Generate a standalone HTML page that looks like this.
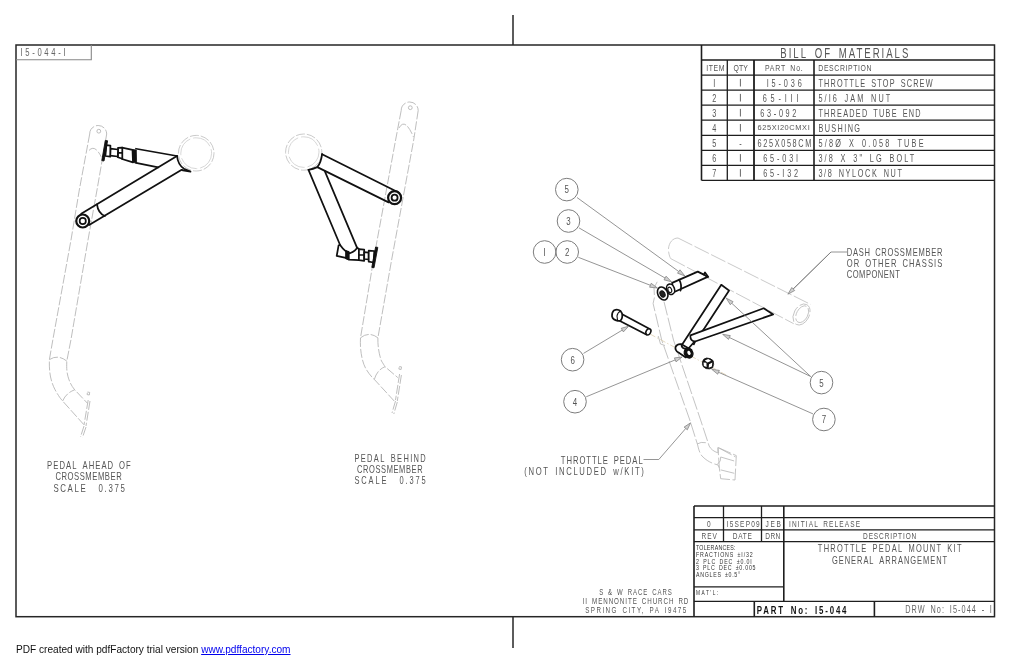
<!DOCTYPE html>
<html><head><meta charset="utf-8">
<style>
html,body{margin:0;padding:0;background:#fff;width:1024px;height:663px;overflow:hidden;}
svg{display:block;position:absolute;left:0;top:0;will-change:transform;}
.t{font-family:"Liberation Sans",sans-serif;}
.foot{position:absolute;left:15.5px;top:643px;font-family:"Liberation Sans",sans-serif;font-size:10.1px;line-height:14px;color:#111;white-space:nowrap;will-change:transform;}
.foot a{color:#0000ee;text-decoration:underline;}
</style></head><body>
<svg width="1024" height="663" viewBox="0 0 1024 663">
<g stroke="#262626" stroke-width="1.5" fill="none">
<rect x="16" y="45" width="978.5" height="571.7"/>
<line x1="513" y1="15" x2="513" y2="45"/>
<line x1="513" y1="617" x2="513" y2="648"/>
</g>
<polyline points="16,59.7 91.3,59.7 91.3,45" stroke="#888" stroke-width="1.1" fill="none"/>
<text class="t" transform="matrix(0.700,0,0,1,20.4,56.3)" x="0" y="0" font-size="10.97" font-weight="normal" fill="#666" textLength="64.6" lengthAdjust="spacing">I5-044-I</text>
<g stroke="#1e1e1e" stroke-width="1.3" fill="none">
<line x1="701.5" y1="60" x2="994.5" y2="60"/>
<line x1="701.5" y1="75.1" x2="994.5" y2="75.1"/>
<line x1="701.5" y1="90.2" x2="994.5" y2="90.2"/>
<line x1="701.5" y1="105.2" x2="994.5" y2="105.2"/>
<line x1="701.5" y1="120.2" x2="994.5" y2="120.2"/>
<line x1="701.5" y1="135.3" x2="994.5" y2="135.3"/>
<line x1="701.5" y1="150.4" x2="994.5" y2="150.4"/>
<line x1="701.5" y1="165.4" x2="994.5" y2="165.4"/>
<line x1="701.5" y1="180.4" x2="994.5" y2="180.4"/>
<line x1="701.5" y1="45" x2="701.5" y2="180.4" stroke-width="1.6"/>
<line x1="727.3" y1="60" x2="727.3" y2="180.4" stroke-width="1.3"/>
<line x1="754" y1="60" x2="754" y2="180.4" stroke-width="1.8"/>
<line x1="814" y1="60" x2="814" y2="180.4" stroke-width="1.6"/>
</g>
<text class="t" transform="matrix(0.700,0,0,1,780.3,57.8)" x="0" y="0" font-size="13.72" font-weight="normal" fill="#555" textLength="182.9" lengthAdjust="spacing">BILL OF MATERIALS</text>
<text class="t" transform="matrix(0.700,0,0,1,706.3,71.0)" x="0" y="0" font-size="9.88" font-weight="normal" fill="#555" textLength="26.0" lengthAdjust="spacing">ITEM</text>
<text class="t" transform="matrix(0.700,0,0,1,733.4,71.0)" x="0" y="0" font-size="9.88" font-weight="normal" fill="#555" textLength="20.7" lengthAdjust="spacing">QTY</text>
<text class="t" transform="matrix(0.700,0,0,1,764.9,71.0)" x="0" y="0" font-size="9.88" font-weight="normal" fill="#555" textLength="54.1" lengthAdjust="spacing">PART No.</text>
<text class="t" transform="matrix(0.700,0,0,1,818.3,71.0)" x="0" y="0" font-size="9.88" font-weight="normal" fill="#555" textLength="76.0" lengthAdjust="spacing">DESCRIPTION</text>
<text class="t" transform="matrix(0.700,0,0,1,714.3,86.5)" x="0" y="0" font-size="10.43" font-weight="normal" fill="#555" text-anchor="middle">I</text>
<line x1="740.4" y1="78.9" x2="740.4" y2="86.5" stroke="#555" stroke-width="0.9"/>
<text class="t" transform="matrix(0.700,0,0,1,766.7,86.5)" x="0" y="0" font-size="10.43" font-weight="normal" fill="#555" textLength="50.0" lengthAdjust="spacing">I5-036</text>
<text class="t" transform="matrix(0.700,0,0,1,818.4,86.5)" x="0" y="0" font-size="10.43" font-weight="normal" fill="#555" textLength="163.1" lengthAdjust="spacing">THROTTLE STOP SCREW</text>
<text class="t" transform="matrix(0.700,0,0,1,714.3,101.5)" x="0" y="0" font-size="10.43" font-weight="normal" fill="#555" text-anchor="middle">2</text>
<line x1="740.4" y1="93.9" x2="740.4" y2="101.5" stroke="#555" stroke-width="0.9"/>
<text class="t" transform="matrix(0.700,0,0,1,762.7,101.5)" x="0" y="0" font-size="10.43" font-weight="normal" fill="#555" textLength="51.1" lengthAdjust="spacing">65-III</text>
<text class="t" transform="matrix(0.700,0,0,1,818.4,101.5)" x="0" y="0" font-size="10.43" font-weight="normal" fill="#555" textLength="102.6" lengthAdjust="spacing">5/I6 JAM NUT</text>
<text class="t" transform="matrix(0.700,0,0,1,714.3,116.5)" x="0" y="0" font-size="10.43" font-weight="normal" fill="#555" text-anchor="middle">3</text>
<line x1="740.4" y1="108.9" x2="740.4" y2="116.5" stroke="#555" stroke-width="0.9"/>
<text class="t" transform="matrix(0.700,0,0,1,760.3,116.5)" x="0" y="0" font-size="10.43" font-weight="normal" fill="#555" textLength="51.6" lengthAdjust="spacing">63-092</text>
<text class="t" transform="matrix(0.700,0,0,1,818.4,116.5)" x="0" y="0" font-size="10.43" font-weight="normal" fill="#555" textLength="146.0" lengthAdjust="spacing">THREADED TUBE END</text>
<text class="t" transform="matrix(0.700,0,0,1,714.3,131.6)" x="0" y="0" font-size="10.43" font-weight="normal" fill="#555" text-anchor="middle">4</text>
<line x1="740.4" y1="124.0" x2="740.4" y2="131.6" stroke="#555" stroke-width="0.9"/>
<text class="t" transform="matrix(1.000,0,0,1,757.5,130.4)" x="0" y="0" font-size="7.41" font-weight="normal" fill="#555" textLength="52.2" lengthAdjust="spacing">625XI20CMXI</text>
<text class="t" transform="matrix(0.700,0,0,1,818.4,131.6)" x="0" y="0" font-size="10.43" font-weight="normal" fill="#555" textLength="59.4" lengthAdjust="spacing">BUSHING</text>
<text class="t" transform="matrix(0.700,0,0,1,714.3,146.7)" x="0" y="0" font-size="10.43" font-weight="normal" fill="#555" text-anchor="middle">5</text>
<text class="t" transform="matrix(0.700,0,0,1,740.5,146.7)" x="0" y="0" font-size="10.43" font-weight="normal" fill="#555" text-anchor="middle">-</text>
<text class="t" transform="matrix(0.700,0,0,1,757.5,146.7)" x="0" y="0" font-size="10.43" font-weight="normal" fill="#555" textLength="76.9" lengthAdjust="spacing">625X058CM</text>
<text class="t" transform="matrix(0.700,0,0,1,818.4,146.7)" x="0" y="0" font-size="10.43" font-weight="normal" fill="#555" textLength="150.3" lengthAdjust="spacing">5/8Ø X 0.058 TUBE</text>
<text class="t" transform="matrix(0.700,0,0,1,714.3,161.7)" x="0" y="0" font-size="10.43" font-weight="normal" fill="#555" text-anchor="middle">6</text>
<line x1="740.4" y1="154.1" x2="740.4" y2="161.7" stroke="#555" stroke-width="0.9"/>
<text class="t" transform="matrix(0.700,0,0,1,763.2,161.7)" x="0" y="0" font-size="10.43" font-weight="normal" fill="#555" textLength="49.9" lengthAdjust="spacing">65-03I</text>
<text class="t" transform="matrix(0.700,0,0,1,818.4,161.7)" x="0" y="0" font-size="10.43" font-weight="normal" fill="#555" textLength="136.9" lengthAdjust="spacing">3/8 X 3" LG BOLT</text>
<text class="t" transform="matrix(0.700,0,0,1,714.3,176.7)" x="0" y="0" font-size="10.43" font-weight="normal" fill="#555" text-anchor="middle">7</text>
<line x1="740.4" y1="169.1" x2="740.4" y2="176.7" stroke="#555" stroke-width="0.9"/>
<text class="t" transform="matrix(0.700,0,0,1,763.2,176.7)" x="0" y="0" font-size="10.43" font-weight="normal" fill="#555" textLength="49.9" lengthAdjust="spacing">65-I32</text>
<text class="t" transform="matrix(0.700,0,0,1,818.4,176.7)" x="0" y="0" font-size="10.43" font-weight="normal" fill="#555" textLength="119.3" lengthAdjust="spacing">3/8 NYLOCK NUT</text>
<g stroke="#1e1e1e" stroke-width="1.3" fill="none">
<line x1="694" y1="506" x2="994.5" y2="506"/>
<line x1="694" y1="517.7" x2="994.5" y2="517.7"/>
<line x1="694" y1="529.9" x2="994.5" y2="529.9"/>
<line x1="694" y1="541.6" x2="994.5" y2="541.6"/>
<line x1="694" y1="506" x2="694" y2="616.7" stroke-width="1.6"/>
<line x1="723.5" y1="506" x2="723.5" y2="541.6"/>
<line x1="761.5" y1="506" x2="761.5" y2="541.6"/>
<line x1="783.8" y1="506" x2="783.8" y2="601.4" stroke-width="1.6"/>
<line x1="694" y1="586.9" x2="783.8" y2="586.9"/>
<line x1="694" y1="601.4" x2="994.5" y2="601.4"/>
<line x1="754.3" y1="601.4" x2="754.3" y2="616.7" stroke-width="1.6"/>
<line x1="874.4" y1="601.4" x2="874.4" y2="616.7" stroke-width="1.6"/>
</g>
<text class="t" transform="matrix(0.700,0,0,1,708.8,527.2)" x="0" y="0" font-size="9.33" font-weight="normal" fill="#555" text-anchor="middle">0</text>
<text class="t" transform="matrix(0.700,0,0,1,726.6,527.2)" x="0" y="0" font-size="9.33" font-weight="normal" fill="#555" textLength="47.3" lengthAdjust="spacing">I5SEP09</text>
<text class="t" transform="matrix(0.700,0,0,1,765.6,527.2)" x="0" y="0" font-size="9.33" font-weight="normal" fill="#555" textLength="21.9" lengthAdjust="spacing">JEB</text>
<text class="t" transform="matrix(0.700,0,0,1,789.1,527.2)" x="0" y="0" font-size="9.33" font-weight="normal" fill="#555" textLength="101.3" lengthAdjust="spacing">INITIAL RELEASE</text>
<text class="t" transform="matrix(0.700,0,0,1,701.6,539.1)" x="0" y="0" font-size="9.33" font-weight="normal" fill="#555" textLength="21.9" lengthAdjust="spacing">REV</text>
<text class="t" transform="matrix(0.700,0,0,1,732.8,539.1)" x="0" y="0" font-size="9.33" font-weight="normal" fill="#555" textLength="27.3" lengthAdjust="spacing">DATE</text>
<text class="t" transform="matrix(0.700,0,0,1,765.3,539.1)" x="0" y="0" font-size="9.33" font-weight="normal" fill="#555" textLength="21.4" lengthAdjust="spacing">DRN</text>
<text class="t" transform="matrix(0.700,0,0,1,863.1,539.1)" x="0" y="0" font-size="9.33" font-weight="normal" fill="#555" textLength="76.0" lengthAdjust="spacing">DESCRIPTION</text>
<text class="t" transform="matrix(0.700,0,0,1,696.0,549.9)" x="0" y="0" font-size="7.54" font-weight="normal" fill="#333" textLength="56.4" lengthAdjust="spacing">TOLERANCES:</text>
<text class="t" transform="matrix(0.700,0,0,1,696.0,556.9)" x="0" y="0" font-size="7.54" font-weight="normal" fill="#333" textLength="81.0" lengthAdjust="spacing">FRACTIONS ±I/32</text>
<text class="t" transform="matrix(0.700,0,0,1,696.0,563.5)" x="0" y="0" font-size="7.54" font-weight="normal" fill="#333" textLength="79.7" lengthAdjust="spacing">2 PLC DEC ±0.0I</text>
<text class="t" transform="matrix(0.700,0,0,1,696.0,570.2)" x="0" y="0" font-size="7.54" font-weight="normal" fill="#333" textLength="85.0" lengthAdjust="spacing">3 PLC DEC ±0.005</text>
<text class="t" transform="matrix(0.700,0,0,1,696.0,577.0)" x="0" y="0" font-size="7.54" font-weight="normal" fill="#333" textLength="63.0" lengthAdjust="spacing">ANGLES ±0.5°</text>
<text class="t" transform="matrix(0.700,0,0,1,696.0,595.3)" x="0" y="0" font-size="6.86" font-weight="normal" fill="#333" textLength="31.9" lengthAdjust="spacing">MAT'L:</text>
<text class="t" transform="matrix(0.700,0,0,1,817.8,552.3)" x="0" y="0" font-size="10.70" font-weight="normal" fill="#555" textLength="205.3" lengthAdjust="spacing">THROTTLE PEDAL MOUNT KIT</text>
<text class="t" transform="matrix(0.700,0,0,1,831.9,563.6)" x="0" y="0" font-size="10.70" font-weight="normal" fill="#555" textLength="164.7" lengthAdjust="spacing">GENERAL ARRANGEMENT</text>
<text class="t" transform="matrix(0.700,0,0,1,756.7,613.7)" x="0" y="0" font-size="11.25" font-weight="bold" fill="#111" textLength="128.3" lengthAdjust="spacing">PART No: I5-044</text>
<text class="t" transform="matrix(0.700,0,0,1,905.3,613.1)" x="0" y="0" font-size="10.43" font-weight="normal" fill="#666" textLength="123.7" lengthAdjust="spacing">DRW No: I5-044 - I</text>
<text class="t" transform="matrix(0.700,0,0,1,599.2,594.9)" x="0" y="0" font-size="8.64" font-weight="normal" fill="#555" textLength="103.7" lengthAdjust="spacing">S &amp; W RACE CARS</text>
<text class="t" transform="matrix(0.700,0,0,1,846.8,255.9)" x="0" y="0" font-size="10.84" font-weight="normal" fill="#555" textLength="136.6" lengthAdjust="spacing">DASH CROSSMEMBER</text>
<text class="t" transform="matrix(0.700,0,0,1,846.8,267.3)" x="0" y="0" font-size="10.84" font-weight="normal" fill="#555" textLength="136.6" lengthAdjust="spacing">OR OTHER CHASSIS</text>
<text class="t" transform="matrix(0.700,0,0,1,846.8,278.2)" x="0" y="0" font-size="10.84" font-weight="normal" fill="#555" textLength="75.7" lengthAdjust="spacing">COMPONENT</text>
<text class="t" transform="matrix(0.700,0,0,1,560.8,463.5)" x="0" y="0" font-size="10.97" font-weight="normal" fill="#555" textLength="117.0" lengthAdjust="spacing">THROTTLE PEDAL</text>
<text class="t" transform="matrix(0.700,0,0,1,524.2,474.5)" x="0" y="0" font-size="10.97" font-weight="normal" fill="#555" textLength="171.0" lengthAdjust="spacing">(NOT INCLUDED w/KIT)</text>
<text class="t" transform="matrix(0.700,0,0,1,47.1,468.9)" x="0" y="0" font-size="10.97" font-weight="normal" fill="#555" textLength="119.6" lengthAdjust="spacing">PEDAL AHEAD OF</text>
<text class="t" transform="matrix(0.700,0,0,1,55.4,480.3)" x="0" y="0" font-size="10.97" font-weight="normal" fill="#555" textLength="94.7" lengthAdjust="spacing">CROSSMEMBER</text>
<text class="t" transform="matrix(0.700,0,0,1,53.4,491.6)" x="0" y="0" font-size="11.25" font-weight="normal" fill="#555" textLength="102.0" lengthAdjust="spacing">SCALE  0.375</text>
<text class="t" transform="matrix(0.700,0,0,1,354.4,461.9)" x="0" y="0" font-size="10.70" font-weight="normal" fill="#555" textLength="101.9" lengthAdjust="spacing">PEDAL BEHIND</text>
<text class="t" transform="matrix(0.700,0,0,1,357.0,472.9)" x="0" y="0" font-size="10.70" font-weight="normal" fill="#555" textLength="93.7" lengthAdjust="spacing">CROSSMEMBER</text>
<text class="t" transform="matrix(0.700,0,0,1,354.4,484.4)" x="0" y="0" font-size="10.70" font-weight="normal" fill="#555" textLength="101.9" lengthAdjust="spacing">SCALE  0.375</text>
<text class="t" transform="matrix(0.700,0,0,1,582.7,604.1)" x="0" y="0" font-size="8.92" font-weight="normal" fill="#555" textLength="150.9" lengthAdjust="spacing">II MENNONITE CHURCH RD</text>
<text class="t" transform="matrix(0.700,0,0,1,585.2,612.9)" x="0" y="0" font-size="8.92" font-weight="normal" fill="#555" textLength="144.4" lengthAdjust="spacing">SPRING CITY, PA I9475</text>
<defs>
<style>
.dsh{stroke:#adadad;stroke-width:0.8;stroke-dasharray:9 2;fill:none;}
.blk{stroke:#111;stroke-width:1.75;fill:none;stroke-linejoin:round;stroke-linecap:round;}
.blkf{stroke:#111;stroke-width:1.75;fill:#fff;stroke-linejoin:round;}
.ldr{stroke:#7a7a7a;stroke-width:0.8;fill:none;}
.bal{stroke:#7c7c7c;stroke-width:1;fill:none;}
.arw{stroke:#777;stroke-width:0.7;fill:#d0d0d0;}
.cl{stroke:#d9c9a6;stroke-width:0.7;stroke-dasharray:6 2 1.5 2;fill:none;}
</style>
</defs>
<!-- ===== LEFT VIEW: pedal ahead of crossmember ===== -->
<g id="left">
  <!-- pedal (dashed) -->
  <path class="dsh" d="M89.7,134 A8.5,8.5 0 0 1 106.7,134"/>
  <circle class="dsh" cx="98.8" cy="131.2" r="1.9" style="stroke-dasharray:none"/>
  <path class="dsh" d="M89.7,134 L79.3,190 L71,240 L52.8,340 L49.4,359.6 C49,372 50.5,381 55.1,389.8 C58,395 60,398 62.6,401 L83.7,424.5"/>
  <path class="dsh" d="M106.7,134 L97,190 L88,240 L70.9,340 L66.8,361.1 C66.5,368 66.8,372 67.9,376.2 C69.5,382 71.5,386 74.7,389.8 L87.5,403.3"/>
  <path class="dsh" d="M89,150.4 Q95,144 101.4,157.2"/>
  <path class="dsh" d="M49.4,359.6 Q58,354 66.8,361.1"/>
  <path class="dsh" d="M62.6,401 Q66,393 74.7,389.8"/>
  <path class="dsh" d="M87.5,392 l2.2,0.4 l-0.4,2.6 l-2.2,-0.4 z M88.2,400 L84,425 M90,401 L86,426 M84,426 L80.5,437 M86,427 L82.5,437.5" stroke-dasharray="3 1.5"/>
  <!-- crossmember circle -->
  <circle class="dsh" cx="196.2" cy="153.2" r="17.8" style="stroke:#bdbdbd"/>
  <circle class="dsh" cx="196.2" cy="153.2" r="15.4" style="stroke:#cdcdcd;stroke-dasharray:20 3"/>
  <!-- throttle stop rod -->
  <path class="blk" d="M136,148.75 L177,156 M136,162.8 L158.3,167.3"/>
  <path class="blkf" d="M122,147.6 L132.5,149.8 L133,162.3 L122,159 Z"/>
  <path d="M132.8,149.5 L136.3,150 L136.6,163 L133.2,162.5 Z" fill="#111" stroke="#111" stroke-width="0.8"/>
  <path class="blkf" d="M118,147.8 L122.3,147.6 L122.3,158.8 L117.8,157.2 Z M118,152.7 L122.3,153"/>
  <path class="blkf" d="M110.4,148.7 L118,149.5 L117.8,156.5 L110.2,155.6 Z"/>
  <path class="blkf" d="M106.3,145.2 L110.4,145.6 L110.2,156.7 L105.4,156 Z"/>
  <path d="M105.3,140.4 L107.6,140.8 L104,161 L101.8,160.6 Z" fill="#111" stroke="#111" stroke-width="0.9"/>
  <!-- main tube -->
  <path class="blk" d="M81.2,213.7 L177,156 M89.1,225 L181.7,169.8"/>
  <path class="blk" d="M177,156 Q178,165 184,168.7 L190.5,171.6 L182.9,170.4 L181.7,169.8"/>
  <path class="blk" d="M97,204.3 Q98,213 104.9,216" stroke-width="1.1"/>
  <circle cx="82.75" cy="221" r="6.5" fill="#fff" stroke="#111" stroke-width="2.2"/>
  <circle cx="82.75" cy="221" r="3.1" fill="#fff" stroke="#111" stroke-width="1.7"/>
</g>
<!-- ===== CENTER VIEW: pedal behind crossmember ===== -->
<g id="center">
  <path class="dsh" d="M401.2,110.5 A8.5,8.5 0 0 1 418.2,110.5"/>
  <circle class="dsh" cx="410.3" cy="107.7" r="1.9" style="stroke-dasharray:none"/>
  <path class="dsh" d="M401.2,110.5 L395.6,140 L373.5,260 L360.5,337.8 C359.8,350 362,362 366,369 C368.5,373 371,376.5 374.3,379.4 L394.2,401"/>
  <path class="dsh" d="M418.2,110.5 L413.7,140 L391.6,260 L377.9,337.8 C377.6,347 379.5,356 381.5,361 C383,363.5 384,365 385,366.7 L397.8,377.6"/>
  <path class="dsh" d="M399,128 Q405,117 413.5,137"/>
  <path class="dsh" d="M360.5,337.8 Q369,331 377.9,337.8"/>
  <path class="dsh" d="M374.3,379.4 Q377,370 385,366.7"/>
  <path class="dsh" d="M399.3,366.5 l2.2,0.4 l-0.4,2.6 l-2.2,-0.4 z M399.6,374 L395.5,400 M401.4,375 L397.3,401 M395.5,401 L392,413 M397.3,402 L393.8,414" stroke-dasharray="3 1.5"/>
  <circle class="dsh" cx="303.7" cy="152.1" r="18.1" style="stroke:#bdbdbd"/>
  <circle class="dsh" cx="303.7" cy="152.1" r="15.3" style="stroke:#cdcdcd;stroke-dasharray:20 3"/>
  <!-- upper tube -->
  <path class="blk" d="M322.1,154.2 L398.1,192.2 M317.3,167.1 L388.6,202.4"/>
  <path class="blk" d="M322.1,154.2 Q321,163 317.3,167.1 Q313,169 308.5,169.8"/>
  <circle cx="394.6" cy="197.7" r="6.5" fill="#fff" stroke="#111" stroke-width="2.2"/>
  <circle cx="394.6" cy="197.7" r="3" fill="#fff" stroke="#111" stroke-width="1.8"/>
  <!-- diagonal tube -->
  <path class="blk" d="M308.5,169.8 L340.1,245 M324.8,171.1 L357,247.6"/>
  <path class="blkf" d="M340.1,245 L338.6,245.4 L336.7,255.9 L346.9,258.2 L349,259.7 L358.9,260.1 L358.9,249.1 Q357.5,247.8 357,247.6 Q356,251 349.9,253.3 Q345,252 340.1,245 Z"/>
  <path d="M345.7,250.6 L349.1,251.6 L349.1,259.7 L345.7,258.8 Z" fill="#111" stroke="#111" stroke-width="1"/>
  <path class="blkf" d="M358.9,249.1 L364.2,249.6 L364.2,260.8 L358.9,260.1 Z M358.9,254.8 L364.2,255"/>
  <path class="blkf" d="M364.2,252.1 L368.7,252.6 L368.7,259.5 L364.2,259 Z"/>
  <path class="blkf" d="M368.7,250.6 L374.3,251 L373.6,262.5 L368.7,261.7 Z"/>
  <path d="M375.6,247 L377.8,247.4 L374,267.8 L371.8,267.4 Z" fill="#111" stroke="#111" stroke-width="0.9"/>
</g>
<g style="stroke:#bdbdbd;stroke-width:0.8;fill:none;stroke-dasharray:16 2.5">
<path d="M678,238 L810.6,304.4"/>
<path d="M670.7,258.6 L793.7,323.7"/>
<path d="M678,238 C672,238 668,244 668.5,251 C669,255 670,257.5 670.7,258.6"/>
<ellipse cx="801.5" cy="314.5" rx="7.6" ry="11.2" transform="rotate(28 801.5 314.5)"/>
<ellipse cx="802.2" cy="314.2" rx="5.6" ry="9" transform="rotate(28 802.2 314.2)"/>
</g>
<g style="stroke:#b4b4b4;stroke-width:0.8;fill:none;stroke-dasharray:14 2.5">
<path d="M657.2,281.8 L654,288 L654.5,297.2 L653.1,303.5 L661.7,340 L689.8,420 L697.6,444.8 C699,451 700.5,455 703,457 C707,461 712,463.5 718,465"/>
<path d="M664,301.7 L673.5,340 L700.6,420 L709.2,446.1 C711,449.5 714,451.5 718,452.9"/>
<path d="M697,444.1 Q701,441.5 705.8,442.7"/>
<path d="M658.2,336 L660.5,344 L665,345.5" style="stroke-dasharray:none"/>
<path d="M720.7,457 Q721.5,461 717.3,464.5"/>
<path d="M718,447.5 L736.3,455.6 L735,480 L720.7,478.7 L719.3,467.8 Z M720.7,457 L734.3,461 M720.7,469.9 L734.3,473.3 M719.3,448.2 L735.6,457 M718,447.5 L718,452.9 M718,465 L719.3,467.8"/>
</g>
<path class="cl" d="M650,334 L728,376"/>
<path class="blkf" d="M672.1,282.9 L697.8,271.6 L703.8,274.6 L707.6,276.9 L673.7,292.3 Z"/>
<path class="blk" d="M703.8,274.6 L705,272.5 L708.3,276.9"/>
<path class="blk" d="M679.2,279.6 Q682.2,285 680.5,290.6" stroke-width="3"/>
<ellipse cx="670.6" cy="289.3" rx="3.9" ry="5.3" transform="rotate(-20 670.6 289.3)" fill="#fff" stroke="#111" stroke-width="1.6"/>
<ellipse cx="669.8" cy="289.9" rx="1.8" ry="2.8" transform="rotate(-20 669.8 289.9)" fill="#fff" stroke="#111" stroke-width="1.1"/>
<ellipse cx="662.7" cy="293.5" rx="4.9" ry="6.8" transform="rotate(-25 662.7 293.5)" fill="#fff" stroke="#111" stroke-width="1.6"/>
<ellipse cx="662.5" cy="294" rx="2.4" ry="3.4" transform="rotate(-25 662.5 294)" fill="#222" stroke="#111" stroke-width="1"/>
<path class="blkf" d="M681.5,345.6 L721.3,284.8 L729.1,290.6 L704.6,328 L695,341 L688,349 Z"/>
<path class="blkf" d="M690.4,335.4 L763.7,308.3 L773.2,314.4 L695.1,341.5 Q690,341 690.4,335.4 Z"/>
<path class="blk" d="M695.1,341.5 L693.8,344.3"/>
<path class="blkf" d="M681.5,344.2 Q677.5,343.5 675.6,346.8 Q674.8,350.5 678.5,352.6 L685.8,357.4 L691.5,350 Z"/>
<path class="blk" d="M681.5,345.6 Q682,348.5 685.8,348.8" stroke-width="1.2"/>
<ellipse cx="688.6" cy="353.2" rx="4.1" ry="4.9" transform="rotate(-30 688.6 353.2)" fill="#111" stroke="#111" stroke-width="1.4"/>
<ellipse cx="689" cy="352.9" rx="1.5" ry="2.2" transform="rotate(-30 689 352.9)" fill="#fff"/>
<path d="M702.6,361.6 Q703,358.6 706.6,358 Q711,358 713.2,360.8 Q714.4,364.5 712.6,367.8 Q710,369.6 706,368.6 Q702.6,367 702.4,364.4 Z" fill="#111" stroke="#111" stroke-width="0.8"/>
<path d="M704.8,360.4 L708.2,358.9 L711.2,360.8 L707.6,362.5 Z" fill="#fff"/>
<path d="M703.5,362.6 L706.4,362.8 L706.6,367 L703.9,365.9 Z" fill="#fff"/>
<path d="M709,364.2 L712.3,362.4 L711.9,366.4 L708.7,367.8 Z" fill="#fff"/>
<path class="blkf" d="M620.8,313.6 L649.3,328.8 L646.7,334.8 L617.1,319.5 Z"/>
<ellipse cx="648.4" cy="331.8" rx="2.3" ry="3.2" transform="rotate(28 648.4 331.8)" fill="#fff" stroke="#111" stroke-width="1.5"/>
<path d="M614.2,310.2 Q617.5,308.6 620.6,311 L622,313.4 Q623,318 620.5,320.6 L617.8,320.8 Q612.8,319.8 612,316.2 Q611.8,312.2 614.2,310.2 Z" fill="#fff" stroke="#111" stroke-width="1.7"/>
<path d="M620.6,311 Q617.5,312.5 617,316 Q617.3,319 617.8,320.8" fill="none" stroke="#111" stroke-width="1.1"/>
<circle class="bal" cx="566.8" cy="189.6" r="11.3"/>
<text class="t" transform="matrix(0.75,0,0,1,566.8,193.4)" x="0" y="0" font-size="10.56" fill="#555" text-anchor="middle">5</text>
<line class="ldr" x1="577.0" y1="197.5" x2="678.7" y2="271.5"/>
<polygon class="arw" points="684.8,275.9 677.5,273.2 680.0,269.8"/>
<circle class="bal" cx="568.5" cy="221" r="11.3"/>
<text class="t" transform="matrix(0.75,0,0,1,568.5,224.8)" x="0" y="0" font-size="10.56" fill="#555" text-anchor="middle">3</text>
<line class="ldr" x1="578.9" y1="227.8" x2="665.0" y2="278.0"/>
<polygon class="arw" points="671.5,281.8 664.0,279.8 666.1,276.2"/>
<circle class="bal" cx="544.6" cy="252" r="11.3"/>
<text class="t" transform="matrix(0.75,0,0,1,544.6,255.8)" x="0" y="0" font-size="10.56" fill="#555" text-anchor="middle">I</text>
<circle class="bal" cx="567.2" cy="252" r="11.3"/>
<text class="t" transform="matrix(0.75,0,0,1,567.2,255.8)" x="0" y="0" font-size="10.56" fill="#555" text-anchor="middle">2</text>
<line class="ldr" x1="578.3" y1="257.3" x2="650.4" y2="285.3"/>
<polygon class="arw" points="657.4,288.0 649.6,287.2 651.2,283.3"/>
<circle class="bal" cx="572.6" cy="359.7" r="11.3"/>
<text class="t" transform="matrix(0.75,0,0,1,572.6,363.6)" x="0" y="0" font-size="10.56" fill="#555" text-anchor="middle">6</text>
<line class="ldr" x1="583.5" y1="353.4" x2="622.3" y2="330.1"/>
<polygon class="arw" points="628.7,326.2 623.4,331.9 621.2,328.3"/>
<circle class="bal" cx="575" cy="401.7" r="11.3"/>
<text class="t" transform="matrix(0.75,0,0,1,575.0,405.6)" x="0" y="0" font-size="10.56" fill="#555" text-anchor="middle">4</text>
<line class="ldr" x1="586.2" y1="396.8" x2="675.2" y2="359.9"/>
<polygon class="arw" points="682.1,357.0 676.0,361.8 674.4,357.9"/>
<circle class="bal" cx="821.5" cy="382.6" r="11.3"/>
<text class="t" transform="matrix(0.75,0,0,1,821.5,386.5)" x="0" y="0" font-size="10.56" fill="#555" text-anchor="middle">5</text>
<line class="ldr" x1="810.7" y1="376.5" x2="731.7" y2="303.2"/>
<polygon class="arw" points="726.2,298.1 733.1,301.7 730.3,304.7"/>
<line class="ldr" x1="810.7" y1="376.5" x2="729.4" y2="337.5"/>
<polygon class="arw" points="722.6,334.3 730.3,335.6 728.5,339.4"/>
<circle class="bal" cx="823.9" cy="419.5" r="11.3"/>
<text class="t" transform="matrix(0.75,0,0,1,823.9,423.4)" x="0" y="0" font-size="10.56" fill="#555" text-anchor="middle">7</text>
<line class="ldr" x1="813.0" y1="413.9" x2="718.6" y2="372.3"/>
<polygon class="arw" points="711.7,369.3 719.4,370.4 717.7,374.2"/>
<polyline class="ldr" points="847,252 831,252 792,290"/>
<line class="ldr" x1="831.0" y1="252.0" x2="793.3" y2="289.0"/>
<polygon class="arw" points="787.9,294.2 791.8,287.5 794.7,290.5"/>
<polyline class="ldr" points="643.5,459.5 658.8,459.5"/>
<line class="ldr" x1="658.8" y1="459.5" x2="685.7" y2="428.5"/>
<polygon class="arw" points="690.6,422.8 687.3,429.8 684.1,427.1"/>
</svg>
<div class="foot">PDF created with pdfFactory trial version <a>www.pdffactory.com</a></div>
</body></html>
